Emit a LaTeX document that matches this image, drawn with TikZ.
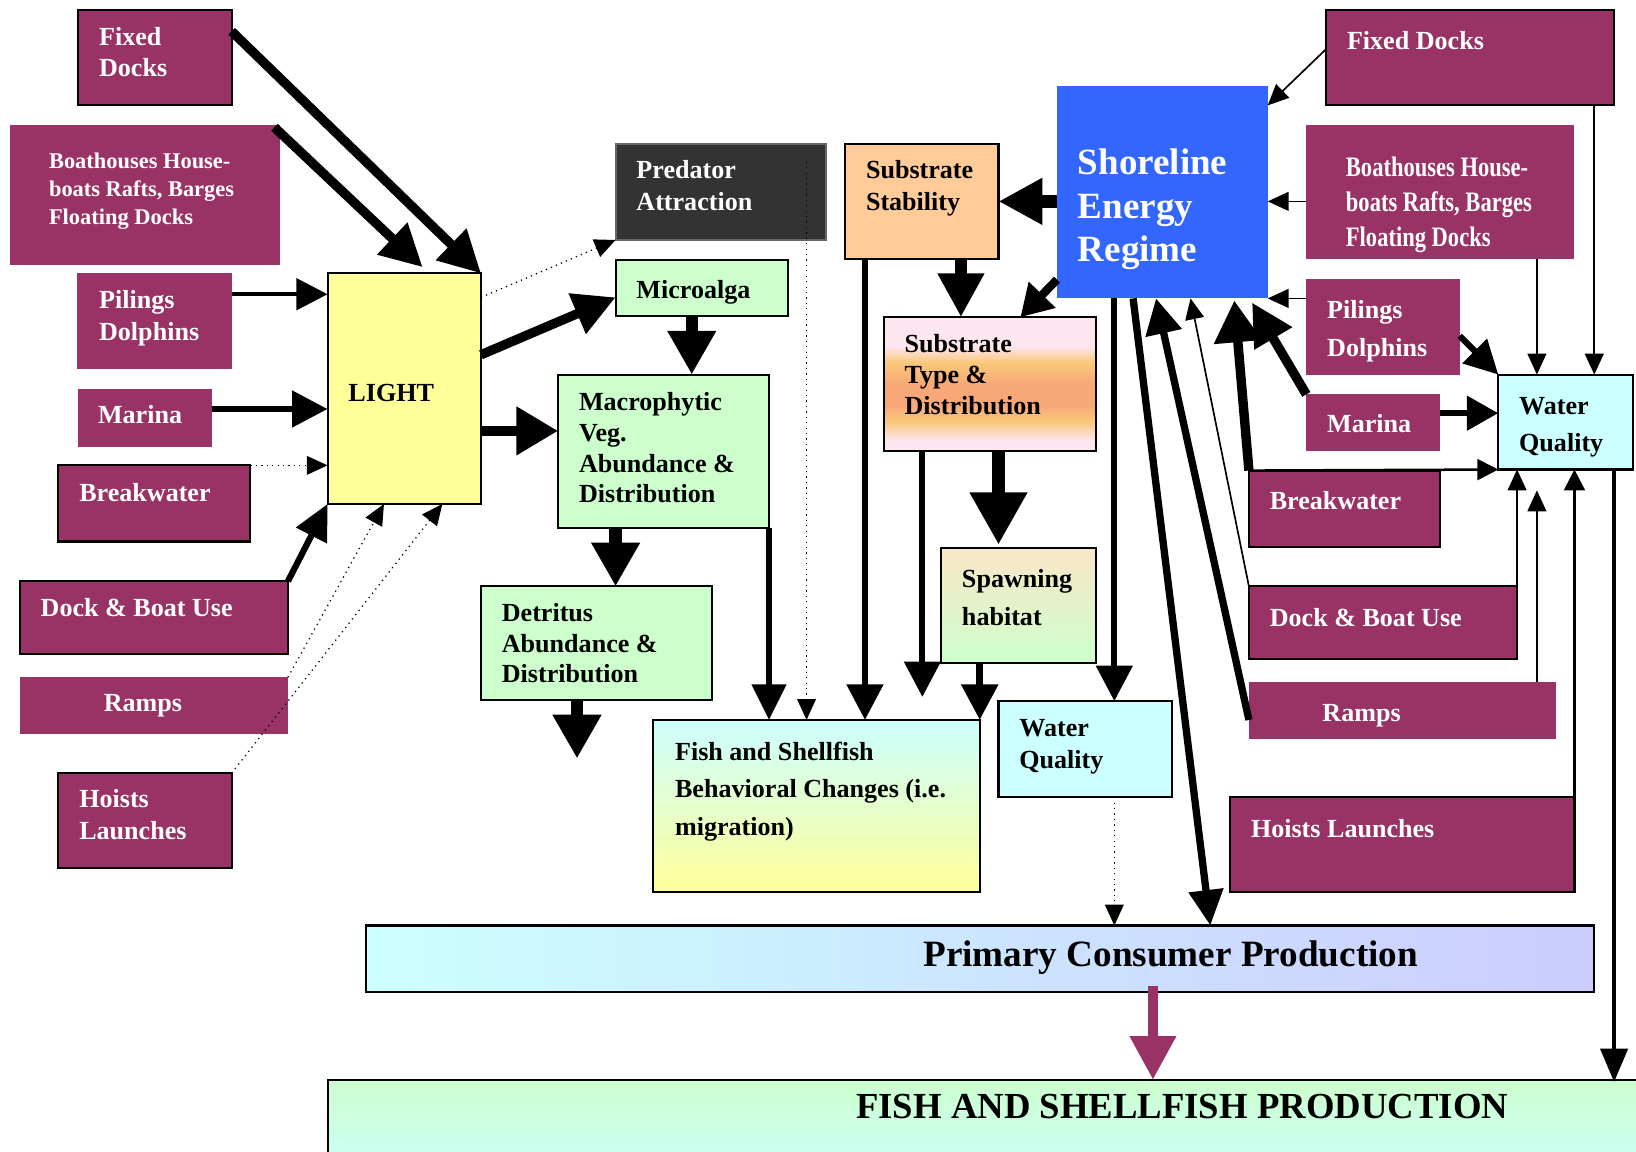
\documentclass[tikz,border=0pt]{standalone}
\usepackage{fontspec}
\setmainfont{Liberation Serif}
\newfontfamily\condfont[FakeStretch=0.8]{Liberation Serif}
\usetikzlibrary{arrows.meta,fit,calc}
\definecolor{maroon}{HTML}{993366}
\definecolor{yellowc}{HTML}{FFFF99}
\definecolor{greenc}{HTML}{CCFFCC}
\definecolor{cyanc}{HTML}{CCFFFF}
\definecolor{lavc}{HTML}{CCCCFF}
\definecolor{orangec}{HTML}{FFCC99}
\definecolor{bluec}{HTML}{3366FF}
\definecolor{darkc}{HTML}{333333}
\definecolor{peachc}{HTML}{FAE6C8}
\definecolor{stpink}{HTML}{FDE6F0}
\definecolor{styel}{HTML}{F9C878}
\definecolor{storange}{HTML}{F8A878}
\pgfdeclareverticalshading{stshade}{100bp}{color(0bp)=(stpink); color(29bp)=(stpink); color(36bp)=(styel); color(42bp)=(storange); color(50bp)=(storange); color(58bp)=(styel); color(64bp)=(stpink); color(100bp)=(stpink)}
\tikzset{
  every node/.style={inner sep=0pt, outer sep=0pt},
  mbox/.style={fill=maroon},
  mboxb/.style={fill=maroon, draw=black, line width=1pt},
  bbox/.style={draw=black, line width=1pt},
  txt/.style={anchor=base west, align=left, text=white, font=\bfseries\fontsize{12.5}{15}\selectfont},
  dtxt/.style={txt, text=black},
  hd/.style 2 args={-{Triangle[length=#1,width=#2]}},
  dotarr/.style={dotted, line width=0.6pt, hd={10pt}{9pt}},
  thinarr/.style={line width=0.8pt, hd={10pt}{9pt}},
}
\begin{document}
\begin{tikzpicture}[x=0.5pt, y=-0.5pt]
\useasboundingbox (0,0) rectangle (1568,1104);
\clip (0,0) rectangle (1568,1104);
% ---------- boxes ----------
\node[mboxb, fit={(75,10) (222,101)}] (fd1) {};
\node[mbox, fit={(10,120) (268,254)}] (bh1) {};
\node[mbox, fit={(74,262) (222,354)}] (pd1) {};
\node[mbox, fit={(75,373) (203,428)}] (ma1) {};
\node[mboxb, fit={(56,446) (240,519)}] (bw1) {};
\node[mboxb, fit={(19,557) (276,627)}] (db1) {};
\node[mbox, fit={(19,649) (276,703)}] (ra1) {};
\node[mboxb, fit={(56,741) (222,832)}] (hl1) {};
\node[bbox, fill=yellowc, fit={(314,262) (461,483)}] (light) {};
\node[draw=black!60, line width=1pt, fill=darkc, fit={(590,138) (792,230)}] (pred) {};
\node[bbox, fill=greenc, fit={(590,249) (755,303)}] (micro) {};
\node[bbox, fill=greenc, fit={(535,359) (737,506)}] (macro) {};
\node[bbox, fill=greenc, fit={(461,562) (682,671)}] (detr) {};
\node[bbox, top color=cyanc, bottom color=yellowc, fit={(626,690) (939,855)}] (fish) {};
\node[bbox, fill=orangec, fit={(810,138) (957,248)}] (ss) {};
\node[fill=bluec, fit={(1013,82) (1215,286)}] (ser) {};
\node[bbox, shading=stshade, fit={(847,304) (1050,432)}] (st) {};
\node[bbox, top color=peachc, bottom color=greenc, fit={(902,525) (1050,635)}] (spawn) {};
\node[bbox, fill=cyanc, fit={(957,672) (1123,764)}] (wq1) {};
\node[mboxb, fit={(1271,10) (1547,101)}] (fd2) {};
\node[mbox, fit={(1252,120) (1509,248)}] (bh2) {};
\node[mbox, fit={(1252,267) (1399,359)}] (pd2) {};
\node[mbox, fit={(1252,378) (1380,432)}] (ma2) {};
\node[bbox, fill=cyanc, fit={(1436,359) (1565,450)}] (wq2) {};
\node[mboxb, fit={(1197,451) (1380,524)}] (bw2) {};
\node[mboxb, fit={(1197,562) (1454,632)}] (db2) {};
\node[mbox, fit={(1197,654) (1491,708)}] (ra2) {};
\node[mboxb, fit={(1179,764) (1509,855)}] (hl2) {};
\node[bbox, left color=cyanc, right color=lavc, fit={(351,887) (1528,951)}] (pcp) {};
\node[bbox, top color=greenc, bottom color=cyanc, fit={(314,1035) (1600,1130)}] (fsp) {};
\coordinate (detrend) at (553,727);
% ---------- texts (multi-line: anchor at baseline of last line) ----------
\node[txt] (fd1t) at (95,73.5) {Fixed\\Docks};
\node[txt, font=\bfseries\fontsize{10.75}{13.5}\selectfont] (bh1t) at (47,215.5) {Boathouses House-\\boats Rafts, Barges\\Floating Docks};
\node[txt, font=\bfseries\fontsize{12.5}{15.5}\selectfont] (pd1t) at (95,326.5) {Pilings\\Dolphins};
\node[txt] (ma1t) at (94,405.5) {Marina};
\node[txt] (bw1t) at (76,480.5) {Breakwater};
\node[txt] (db1t) at (39,590.5) {Dock \& Boat Use};
\node[txt, anchor=base] (ra1t) at (137,681.5) {Ramps};
\node[txt, font=\bfseries\fontsize{12.5}{15.5}\selectfont] (hl1t) at (76,804.5) {Hoists\\Launches};
\node[dtxt] (lightt) at (334,384.5) {LIGHT};
\node[txt] (predt) at (610,201.5) {Predator\\Attraction};
\node[dtxt] (microt) at (610,286.5) {Microalga};
\node[dtxt, font=\bfseries\fontsize{12.5}{14.75}\selectfont] (macrot) at (555,482) {Macrophytic\\Veg.\\Abundance \&\\Distribution};
\node[dtxt, font=\bfseries\fontsize{12.5}{14.75}\selectfont] (detrt) at (481,654.5) {Detritus\\Abundance \&\\Distribution};
\node[dtxt, font=\bfseries\fontsize{12.5}{18}\selectfont] (fisht) at (647,800.5) {Fish and Shellfish\\Behavioral Changes (i.e.\\migration)};
\node[dtxt] (sst) at (830,201.5) {Substrate\\Stability};
\node[txt, font=\bfseries\fontsize{17.75}{21}\selectfont] (sert) at (1033,251) {Shoreline\\Energy\\Regime};
\node[dtxt] (stt) at (867,397.5) {Substrate\\Type \&\\Distribution};
\node[dtxt, font=\bfseries\fontsize{12.5}{18}\selectfont] (spawnt) at (922,599.5) {Spawning\\habitat};
\node[dtxt, font=\bfseries\fontsize{12.5}{15.5}\selectfont] (wq1t) at (977,736.5) {Water\\Quality};
\node[txt] (fd2t) at (1291,47.5) {Fixed Docks};
\node[txt, font=\condfont\bfseries\fontsize{13.5}{16.75}\selectfont] (bh2t) at (1290,236) {Boathouses House-\\boats Rafts, Barges\\Floating Docks};
\node[txt, font=\bfseries\fontsize{12.5}{18}\selectfont] (pd2t) at (1272,341.5) {Pilings\\Dolphins};
\node[txt] (ma2t) at (1272,414.5) {Marina};
\node[dtxt, font=\bfseries\fontsize{12.5}{17.5}\selectfont] (wq2t) at (1456,432.5) {Water\\Quality};
\node[txt] (bw2t) at (1217,488.5) {Breakwater};
\node[txt] (db2t) at (1217,600.5) {Dock \& Boat Use};
\node[txt, anchor=base] (ra2t) at (1305,691.5) {Ramps};
\node[txt] (hl2t) at (1199,802.5) {Hoists Launches};
\node[dtxt, anchor=base, font=\bfseries\fontsize{17.8}{21}\selectfont] (pcpt) at (1122,926) {Primary Consumer Production};
\node[dtxt, anchor=base, font=\bfseries\fontsize{17.6}{21}\selectfont] (fspt) at (1133,1072) {FISH AND SHELLFISH PRODUCTION};
% ---------- connectors: left ----------
\draw[line width=4.5pt, hd={20pt}{20pt}] ($(fd1.north east)+(0,20)$) -- (light.north east);
\draw[line width=4.5pt, hd={20pt}{20pt}] ($(bh1.north east)+(-5,2)$) -- ($(light.north west)+(91,-6)$);
\draw[line width=2pt, hd={15pt}{15pt}] ($(pd1.north east)+(0,20)$) -- ($(light.north west)+(0,20)$);
\draw[line width=3pt, hd={17pt}{17pt}] ($(ma1.north east)+(0,19)$) -- ($(light.north west)+(0,130)$);
\draw[dotarr] (bw1.north east) -- ($(light.north west)+(0,184)$);
\draw[line width=3pt, hd={17pt}{16pt}] (db1.north east) -- (light.south west);
\draw[dotarr] (ra1.north east) -- ($(light.south west)+(54,0)$);
\draw[dotarr] (hl1.north east) -- ($(light.south west)+(110,0)$);
\draw[dotarr] ($(light.north east)+(0,23)$) -- (pred.south west);
\draw[line width=4.5pt, hd={20pt}{20pt}] ($(light.north east)+(0,78)$) -- ($(micro.north west)+(0,36)$);
\draw[line width=5pt, hd={20pt}{22pt}] ($(light.north east)+(0,151)$) -- ($(macro.north west)+(0,54)$);
\draw[line width=6pt, hd={21pt}{22pt}] ($(micro.south west)+(73,0)$) -- ($(macro.north west)+(128,0)$);
\draw[line width=6pt, hd={21pt}{22pt}] ($(macro.south west)+(55,0)$) -- ($(detr.north west)+(129,0)$);
\draw[line width=6pt, hd={21pt}{22pt}] ($(detr.south west)+(92,0)$) -- (detrend);
\draw[line width=3pt, hd={17pt}{16pt}] (macro.south east) -- ($(fish.north west)+(111,0)$);
\draw[dotarr] ($(pred.north east)+(-19,17)$) -- ($(fish.north west)+(147,0)$);
% ---------- connectors: middle ----------
\draw[line width=3pt, hd={17pt}{17pt}] ($(ss.south west)+(19,0)$) -- ($(fish.north west)+(203,0)$);
\draw[line width=6pt, hd={21pt}{21pt}] ($(ser.north west)+(0,111)$) -- ($(ss.north east)+(0,55)$);
\draw[line width=6pt, hd={21pt}{21pt}] ($(ss.south west)+(111,0)$) -- ($(st.north west)+(74,0)$);
\draw[line width=4pt, hd={15pt}{17pt}] ($(ser.south west)+(0,-18)$) -- ($(st.north west)+(131,0)$);
\draw[line width=3pt, hd={17pt}{17pt}] ($(st.south west)+(37,0)$) -- ($(fish.north west)+(258,-22)$);
\draw[line width=6pt, hd={25pt}{26pt}] ($(st.south west)+(110,0)$) -- ($(spawn.north west)+(55,-3)$);
\draw[line width=3.5pt, hd={17pt}{17pt}] ($(spawn.south west)+(37,0)$) -- (fish.north east);
\draw[line width=3pt, hd={17pt}{17pt}] ($(ser.south west)+(55,0)$) -- ($(wq1.north west)+(111,0)$);
\draw[dotarr] ($(wq1.south west)+(111,0)$) -- ($(pcp.north west)+(717,0)$);
\draw[line width=3.5pt, hd={17pt}{16pt}] ($(ser.south west)+(73,0)$) -- ($(pcp.north west)+(809,0)$);
% ---------- connectors: right ----------
\draw[thinarr] ($(fd2.north west)+(0,37)$) -- ($(ser.north east)+(0,19)$);
\draw[thinarr] ($(bh2.north west)+(0,73)$) -- ($(ser.north east)+(0,111)$);
\draw[thinarr] ($(pd2.north west)+(0,19)$) -- (ser.south east);
\draw[line width=3pt, hd={16pt}{16pt}] ($(pd2.north east)+(0,55)$) -- (wq2.north west);
\draw[line width=3pt, hd={15pt}{16pt}] ($(ma2.north east)+(0,18)$) -- ($(wq2.north west)+(0,37)$);
\draw[line width=4.5pt, hd={20pt}{20pt}] (ma2.north west) -- ($(ser.south east)+(-15,4)$);
\draw[line width=4.5pt, hd={20pt}{22pt}] (bw2.north west) -- ($(ser.south east)+(-32,2)$);
\draw[line width=1.2pt, hd={10pt}{10pt}] (bw2.north west) -- (wq2.south west);
\draw[thinarr] (db2.north west) -- ($(ser.south west)+(128,0)$);
\draw[thinarr] (db2.north east) -- ($(wq2.south west)+(18,0)$);
\draw[line width=3.5pt, hd={17pt}{17pt}] ($(ra2.north west)+(0,36)$) -- ($(ser.south west)+(95,0)$);
\draw[thinarr] ($(ra2.north west)+(276,0)$) -- ($(wq2.south west)+(37,20)$);
\draw[line width=1.2pt, hd={10pt}{10pt}] (hl2.north east) -- ($(wq2.south west)+(73,0)$);
\draw[thinarr] ($(fd2.south west)+(257,0)$) -- ($(wq2.north west)+(92,0)$);
\draw[thinarr] ($(bh2.south west)+(221,0)$) -- ($(wq2.north west)+(37,0)$);
\draw[line width=2pt, hd={16pt}{13pt}] ($(wq2.south west)+(111,0)$) -- ($(fsp.north west)+(1233,2)$);
\draw[maroon, line width=5pt, hd={21pt}{21pt}] ($(pcp.south west)+(754,-6)$) -- ($(fsp.north west)+(791,0)$);
\end{tikzpicture}
\end{document}
